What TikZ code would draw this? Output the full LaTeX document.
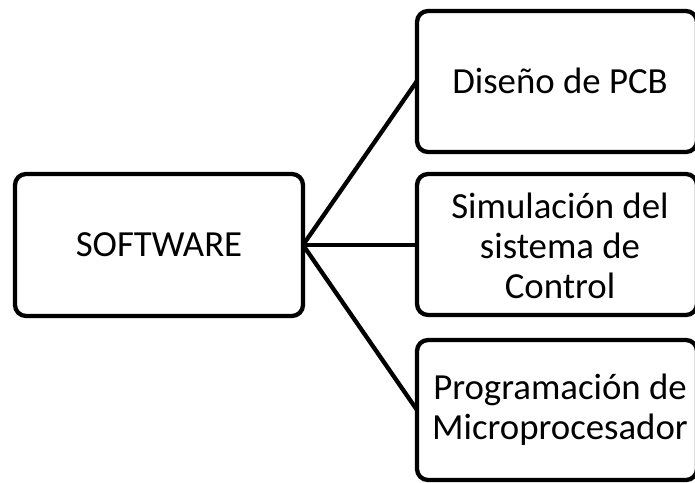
\documentclass[tikz,border=0pt]{standalone}
\usepackage{fontspec}
\setmainfont{Carlito}
\begin{document}
\begin{tikzpicture}[x=1pt,y=-1pt,
  box/.style={draw=black,line width=4.3pt,rounded corners=11pt,fill=white},
  lbl/.style={align=center,font=\fontsize{36.8}{40}\selectfont,inner sep=0pt},
  conn/.style={draw=black,line width=4.3pt}]
\useasboundingbox (0,0) rectangle (695,482);
\clip (0,0) rectangle (695,482);
% connectors first
\coordinate (s) at (303,245);
\coordinate (a) at (417,81);
\coordinate (b) at (417,245);
\coordinate (c) at (417,410);
\draw[conn] (s) -- (a);
\draw[conn] (s) -- (b);
\draw[conn] (s) -- (c);
% boxes
\draw[box] (15,174) rectangle (303,316);
\node[lbl] (sw) at (159,245) {SOFTWARE};
\draw[box] (417,11) rectangle (697,152);
\node[lbl] (d) at (560,81) {Diseño de PCB};
\draw[box] (417,174) rectangle (697,315);
\node[lbl] (e) at (560,246) {Simulación del\\sistema de\\Control};
\draw[box] (417,340) rectangle (697,480);
\node[lbl] (f) at (560,410) {Programación de\\Microprocesador};
\end{tikzpicture}
\end{document}
